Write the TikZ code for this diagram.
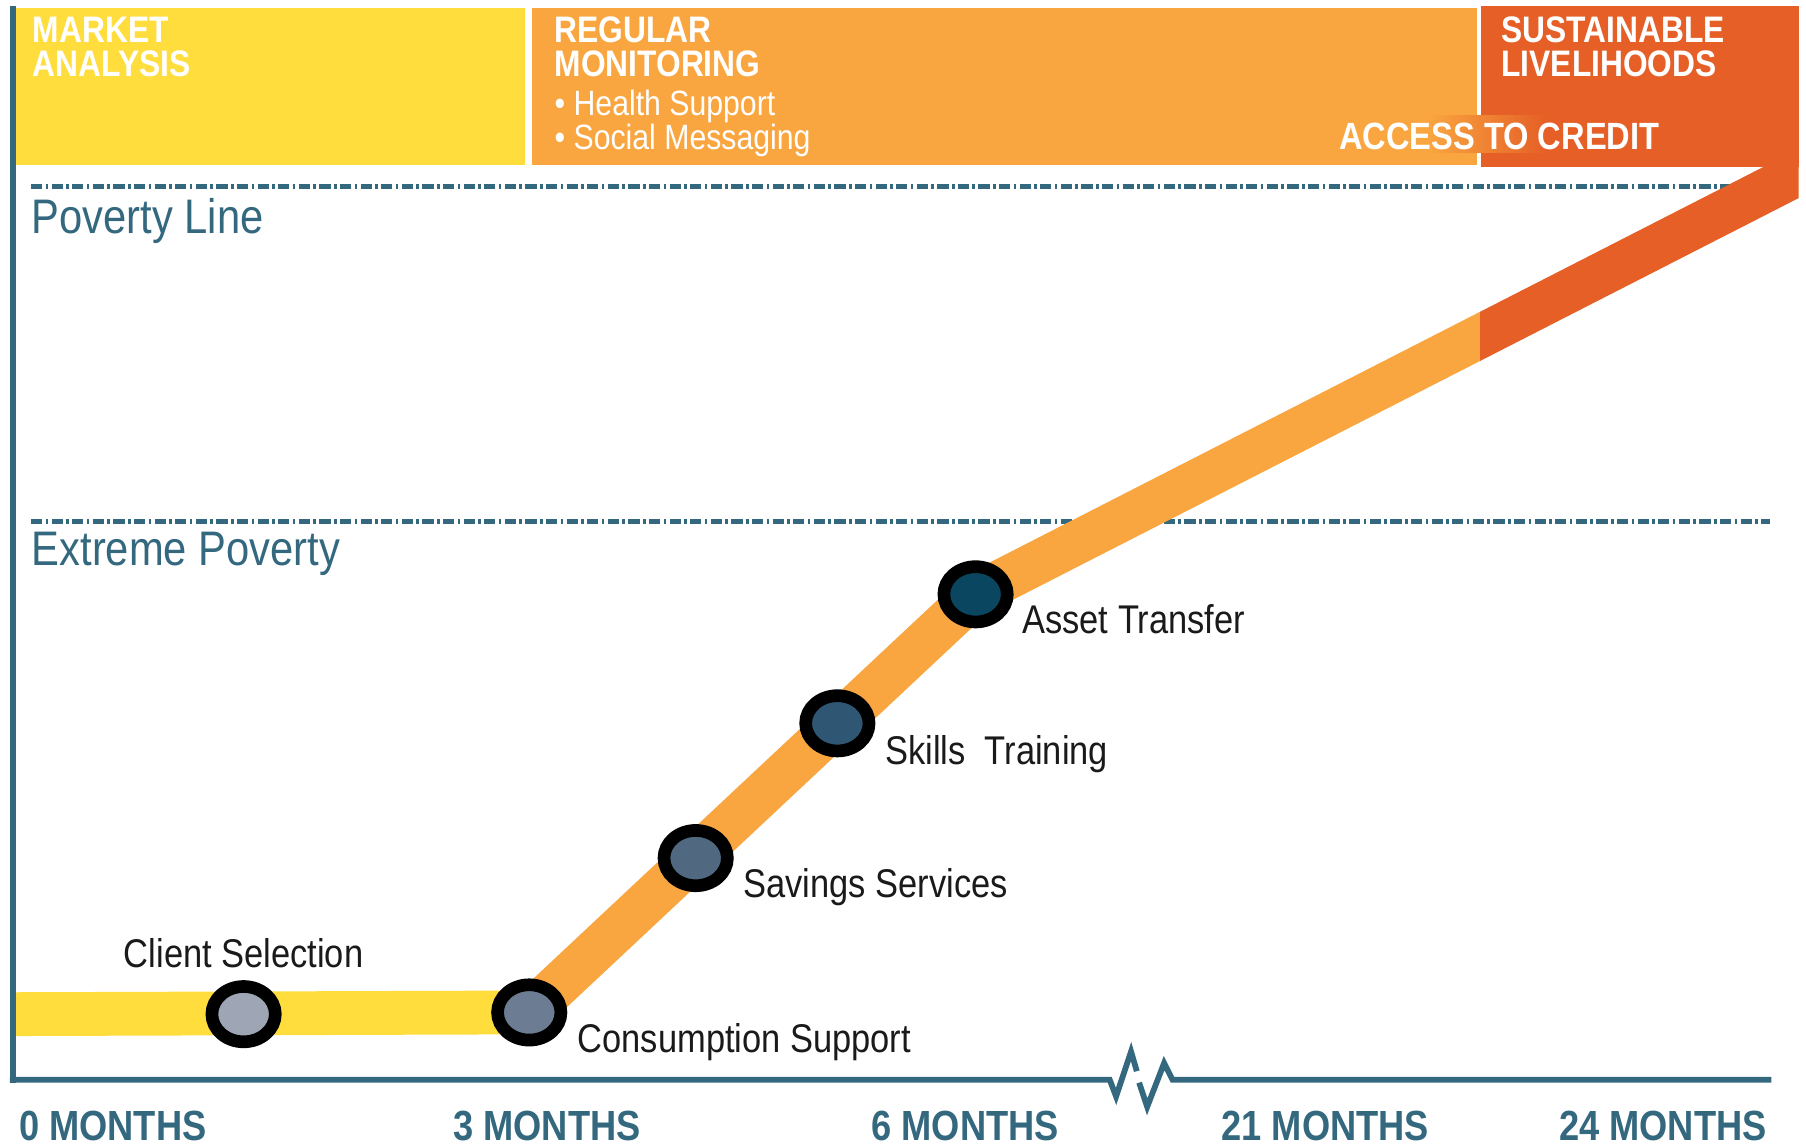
\documentclass[tikz,border=0pt]{standalone}
\usepackage{fontspec}
\setmainfont{Liberation Sans}[FakeStretch=0.86]
\usetikzlibrary{shapes.geometric}
\definecolor{axisteal}{HTML}{33687E}
\definecolor{bandyellow}{HTML}{FFDD3D}
\definecolor{bandorange}{HTML}{F9A640}
\definecolor{bandred}{HTML}{E55F26}
\definecolor{labelc}{HTML}{1A1A1A}
\definecolor{mA}{HTML}{9EA6B6}
\definecolor{mB}{HTML}{6B7C93}
\definecolor{mC}{HTML}{506880}
\definecolor{mD}{HTML}{2F5673}
\definecolor{mE}{HTML}{0A4660}
\begin{document}
\begin{tikzpicture}[x=0.01152cm,y=-0.01152cm,
  lbl/.style={anchor=base west, inner sep=0, text=labelc, font=\fontsize{11.4pt}{12pt}\selectfont},
  hdr/.style={anchor=base west, inner sep=0, text=white, font=\fontsize{10.5pt}{11pt}\selectfont\bfseries},
  bul/.style={anchor=base west, inner sep=0, text=white, font=\fontsize{10pt}{11pt}\selectfont},
  lvl/.style={anchor=base west, inner sep=0, text=axisteal, font=\fontsize{13.8pt}{14pt}\selectfont},
  mon/.style={anchor=base west, inner sep=0, text=axisteal, font=\fontsize{12pt}{13pt}\selectfont\bfseries},
  milestone/.style={shape=ellipse, draw=black, line width=0.1267cm, minimum width=0.634cm, minimum height=0.553cm, inner sep=0},
  bandline/.style={line width=0.438cm, line cap=butt, line join=round},
  dashln/.style={draw=axisteal, line width=0.052cm, dash pattern=on 0.112cm off 0.034cm on 0.026cm off 0.034cm},
  axisln/.style={draw=axisteal, line width=0.0576cm, line join=miter}]
\useasboundingbox (0,0) rectangle (1568,994);
\fill[white] (0,0) rectangle (1568,994);
% top phase bands
\fill[bandyellow] (14,7) rectangle (456,143);
\fill[bandorange] (462,7) rectangle (1282,143);
\fill[bandred] (1286,5) rectangle (1562,145);
\shade[left color=bandorange, right color=bandred] (1239,100) rectangle (1343,132);
% header texts
\node[hdr] (hma1) at (28,37) {MARKET};
\node[hdr] (hma2) at (28,66) {ANALYSIS};
\node[hdr] (hrm1) at (481,37) {REGULAR};
\node[hdr] (hrm2) at (481,66) {MONITORING};
\node[bul] (hrm3) at (481,100) {• Health Support};
\node[bul] (hrm4) at (481,130) {• Social Messaging};
\node[hdr] (hsl1) at (1303,37) {SUSTAINABLE};
\node[hdr] (hsl2) at (1303,66) {LIVELIHOODS};
\node[hdr, font=\fontsize{10.8pt}{11pt}\selectfont\bfseries] (hatc) at (1162,130) {ACCESS TO CREDIT};
% level lines
\draw[dashln] (27,162) -- (1540,162);
\draw[dashln] (27,452.5) -- (1537,452.5);
\node[lvl] (tpov) at (27,203) {Poverty Line};
\node[lvl] (text) at (27,491) {Extreme Poverty};
% milestone positions
\coordinate (ystart) at (14,880.5);
\coordinate (pA) at (211.5,880.5);
\coordinate (pB) at (459.5,879);
\coordinate (pC) at (604,745);
\coordinate (pD) at (727,628);
\coordinate (pE) at (847,516);
\coordinate (bandend) at (1600,131);
% band path
\draw[bandline, bandyellow] (ystart) -- (pB);
\begin{scope}
\clip (0,0) rectangle (1285,994);
\draw[bandline, bandorange] (pB) -- (pE) -- (bandend);
\end{scope}
\begin{scope}
\clip (1285,0) rectangle (1561.5,994);
\draw[bandline, bandred] (pB) -- (pE) -- (bandend);
\end{scope}
% milestones
\node[milestone, fill=mA] (mcs) at (pA) {};
\node[milestone, fill=mB] (mcons) at (pB) {};
\node[milestone, fill=mC] (msav) at (pC) {};
\node[milestone, fill=mD] (mskill) at (pD) {};
\node[milestone, fill=mE] (masset) at (pE) {};
\node[lbl] (lcs) at (107,840) {Client Selection};
\node[lbl] (lcons) at (501,914) {Consumption Support};
\node[lbl] (lsav) at (645,779) {Savings Services};
\node[lbl] (lskill) at (768,664) {Skills\ \ Training};
\node[lbl] (lasset) at (887,550) {Asset Transfer};
% axes
\coordinate (atop) at (11,5);
\coordinate (aleft) at (8.5,937.5);
\coordinate (b1) at (963.5,937.5);
\coordinate (b2) at (1018,937.5);
\coordinate (aright) at (1538,937.5);
\draw[axisln] (atop) -- (11,940);
\draw[axisln] (aleft) -- (b1) -- (969,952) -- (982,913) -- (987,930);
\draw[axisln] (989,940) -- (996,961) -- (1010.7,923) -- (b2) -- (aright);
% month labels
\node[mon] (m0) at (16,990) {0 MONTHS};
\node[mon] (m3) at (393,990) {3 MONTHS};
\node[mon] (m6) at (756,990) {6 MONTHS};
\node[mon] (m21) at (1060,990) {21 MONTHS};
\node[mon] (m24) at (1353,990) {24 MONTHS};
\end{tikzpicture}
\end{document}
